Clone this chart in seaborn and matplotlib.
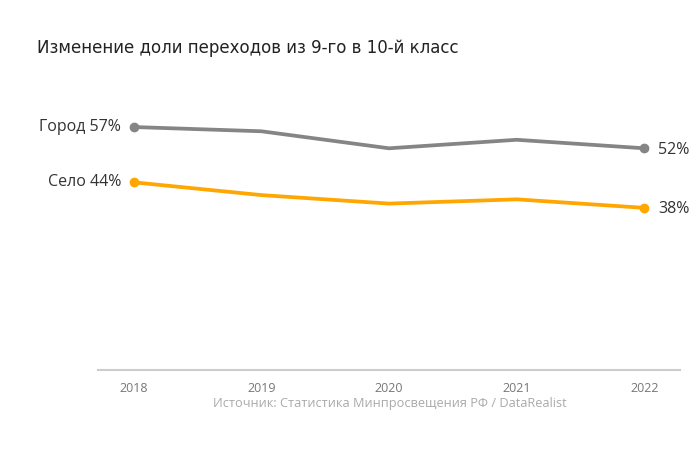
import pandas as pd
import seaborn as sns
import matplotlib.pyplot as plt

# data
years = [2018, 2019, 2020, 2021, 2022]
gorod = [57, 56, 52, 54, 52]
selo = [44, 41, 39, 40, 38]
series_names = ['Город', 'Село']
colors = {'Город': '#858585', 'Село': '#FFA600'}

df = pd.DataFrame({
    'year': years * 2,
    'value': gorod + selo,
    'group': ['Город'] * len(years) + ['Село'] * len(years),
})

sns.set_style('white')
plt.rcParams['font.family'] = ['DejaVu Sans']

fig = plt.figure(figsize=(7, 4.5), dpi=100)
ax = fig.add_axes([98 / 700, 1 - 369.5 / 450, 582 / 700, 268 / 450])

sns.lineplot(data=df, x='year', y='value', hue='group', palette=colors,
             linewidth=2.7, legend=False, ax=ax)

# end points and labels
for name in series_names:
    sub = df[df.group == name]
    first, last = sub.iloc[0], sub.iloc[-1]
    ax.plot([first.year, last.year], [first.value, last.value], 'o',
            color=colors[name], markersize=6)
    ax.annotate(f'{name} {first.value}%', (first.year, first.value),
                xytext=(-9, 0), textcoords='offset points', ha='right', va='center',
                fontsize=11.5, color='#333333', family='Open Sans')
    ax.annotate(f'{last.value}%', (last.year, last.value),
                xytext=(10, -1), textcoords='offset points', ha='left', va='center',
                fontsize=11.5, color='#333333', family='Open Sans')

ax.set_xlim(2017.72, 2022.28)
ax.set_ylim(0, 63)
ax.set_xticks(years)
ax.set_xticklabels([str(y) for y in years], family='Open Sans')
ax.set_yticks([])
ax.set_xlabel('')
ax.set_ylabel('')
sns.despine(ax=ax, left=True, top=True, right=True)
ax.spines['bottom'].set_color('#cccccc')
ax.spines['bottom'].set_linewidth(1.5)
ax.tick_params(axis='x', colors='#cccccc', length=4, width=1.2, labelsize=9, pad=5)
for lbl in ax.get_xticklabels():
    lbl.set_color('#777777')

fig.text(37 / 700, 1 - 48 / 450, 'Изменение доли переходов из 9-го в 10-й класс',
         fontsize=12, color='#222222', va='center', ha='left')
fig.text(390 / 700, 1 - 404 / 450, 'Источник: Статистика Минпросвещения РФ / DataRealist',
         fontsize=9.2, color='#aaaaaa', va='center', ha='center', family='Open Sans')

fig.savefig('out.png', dpi=100)
